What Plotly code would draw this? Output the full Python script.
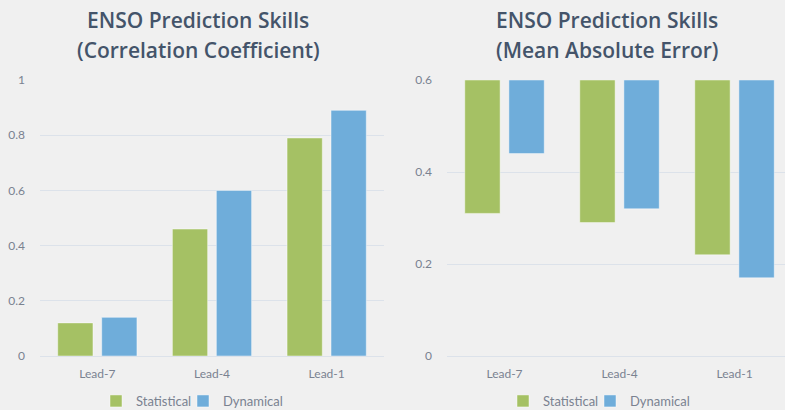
import plotly.graph_objects as go

categories = ["Lead-7", "Lead-4", "Lead-1"]
corr_statistical = [0.12, 0.46, 0.79]
corr_dynamical = [0.14, 0.60, 0.89]
mae_statistical = [0.31, 0.29, 0.22]
mae_dynamical = [0.44, 0.32, 0.17]
mae_axis_cross = 0.6

GREEN = "#A5C164"
BLUE = "#6FADDA"
EDGE = "rgba(255,255,255,0.45)"
FONT = "Lato"
TICKC = "#7A8290"
GRID = "#DCE2EA"
TITLEC = "#44546A"

W, H = 785, 410
T, B = 80, 54
ph = H - T - B

def py(pix):
    return (H - B - pix) / ph

fig = go.Figure()

fig.add_bar(x=categories, y=corr_statistical, name="Statistical", marker=dict(color=GREEN, line=dict(color=EDGE, width=1)),
            xaxis="x", yaxis="y", legend="legend2")
fig.add_bar(x=categories, y=corr_dynamical, name="Dynamical", marker=dict(color=BLUE, line=dict(color=EDGE, width=1)),
            xaxis="x", yaxis="y", legend="legend3")
fig.add_bar(x=categories, y=[v - mae_axis_cross for v in mae_statistical], base=[mae_axis_cross] * 3,
            name="Statistical", marker=dict(color=GREEN, line=dict(color=EDGE, width=1)),
            xaxis="x2", yaxis="y2", legend="legend4")
fig.add_bar(x=categories, y=[v - mae_axis_cross for v in mae_dynamical], base=[mae_axis_cross] * 3,
            name="Dynamical", marker=dict(color=BLUE, line=dict(color=EDGE, width=1)),
            xaxis="x2", yaxis="y2", legend="legend5")

xcommon = dict(showgrid=False, zeroline=False, showline=False, ticks="", ticklabelstandoff=9,
               tickfont=dict(family=FONT, size=12, color=TICKC), automargin=False)
ycommon = dict(showgrid=True, gridcolor=GRID, gridwidth=1, zeroline=True, zerolinecolor=GRID, zerolinewidth=1,
               showline=False, ticks="", ticklabelstandoff=14, dtick=0.2,
               tickfont=dict(family=FONT, size=12, color=TICKC), automargin=False)

legcommon = dict(orientation="h", yanchor="middle", xanchor="left", bgcolor="rgba(0,0,0,0)",
                 font=dict(family=FONT, size=13, color=TICKC), itemwidth=30, y=py(401))

tfont = dict(family="Open Sans", size=21, color=TITLEC, weight=600)

fig.update_layout(
    width=W, height=H,
    margin=dict(l=0, r=0, t=T, b=B, pad=0, autoexpand=False),
    paper_bgcolor="#F0F0F0", plot_bgcolor="#F0F0F0",
    barmode="group", bargap=0.233, bargroupgap=0.198,
    xaxis=dict(domain=[40 / W, 384 / W], range=[-0.5, 2.5], anchor="y", **xcommon),
    yaxis=dict(domain=[0, 1], range=[0, 1], anchor="x", **ycommon),
    xaxis2=dict(domain=[447 / W, 1.0], range=[-0.5, 2.5 - 7 / 114.75], anchor="y2", **xcommon),
    yaxis2=dict(domain=[0, 1], range=[0, 0.6], anchor="x2", **ycommon),
    legend2=dict(x=96 / W, **legcommon),
    legend3=dict(x=183 / W, **legcommon),
    legend4=dict(x=503 / W, **legcommon),
    legend5=dict(x=590 / W, **legcommon),
    annotations=[
        dict(text="ENSO Prediction Skills", x=198 / W, y=py(20), xref="paper", yref="paper",
             showarrow=False, font=tfont, xanchor="center", yanchor="middle"),
        dict(text="(Correlation Coefficient)", x=198 / W, y=py(50), xref="paper", yref="paper",
             showarrow=False, font=tfont, xanchor="center", yanchor="middle"),
        dict(text="ENSO Prediction Skills", x=607 / W, y=py(20), xref="paper", yref="paper",
             showarrow=False, font=tfont, xanchor="center", yanchor="middle"),
        dict(text="(Mean Absolute Error)", x=607 / W, y=py(50), xref="paper", yref="paper",
             showarrow=False, font=tfont, xanchor="center", yanchor="middle"),
    ],
)

fig.write_html("out.html", config={"displayModeBar": False},
               post_script="document.body.style.margin='0';document.body.style.background='#F0F0F0';")
